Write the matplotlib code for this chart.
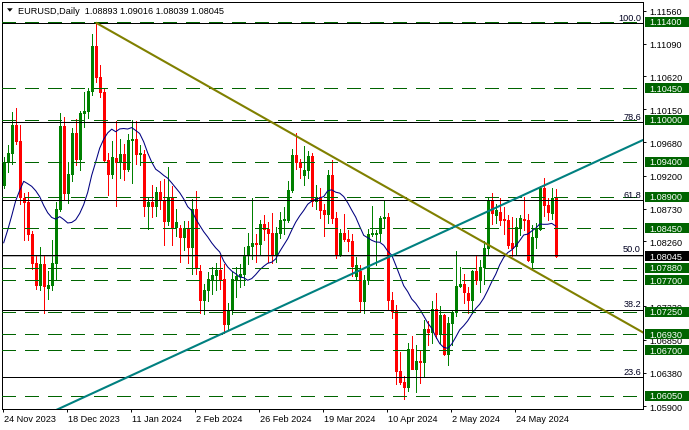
import numpy as np
import pandas as pd
import matplotlib
matplotlib.use("Agg")
import matplotlib.pyplot as plt
from matplotlib.patches import Rectangle, Polygon
import matplotlib.transforms as mtransforms

plt.rcParams['font.family'] = ['Liberation Sans', 'DejaVu Sans']
plt.rcParams['lines.scale_dashes'] = False

# ---------------- data ----------------
symbol_title = "EURUSD,Daily"
first_day = "2023-11-24"
last_day = "2024-06-07"
holidays = ["2023-12-25", "2024-01-01"]

opens = [1.0906, 1.0940, 1.0953, 1.0992, 1.0970, 1.0888, 1.0883, 1.0836, 1.0795, 1.0764,
         1.0794, 1.0759, 1.0763, 1.0795, 1.0872, 1.0991, 1.0895, 1.0922, 1.0981, 1.0944,
         1.1009, 1.1013, 1.1041, 1.1105, 1.1061, 1.1039, 1.0942, 1.0922, 1.0945, 1.0940,
         1.0951, 1.0930, 1.0971, 1.0973, 1.0951, 1.0951, 1.0876, 1.0883, 1.0876, 1.0897,
         1.0885, 1.0855, 1.0890, 1.0846, 1.0845, 1.0832, 1.0845, 1.0818, 1.0873, 1.0784,
         1.0742, 1.0756, 1.0772, 1.0778, 1.0785, 1.0772, 1.0708, 1.0728, 1.0772, 1.0777,
         1.0779, 1.0806, 1.0820, 1.0823, 1.0822, 1.0851, 1.0844, 1.0838, 1.0806, 1.0838,
         1.0856, 1.0857, 1.0899, 1.0949, 1.0939, 1.0921, 1.0928, 1.0948, 1.0884, 1.0889,
         1.0871, 1.0865, 1.0921, 1.0859, 1.0808, 1.0838, 1.0830, 1.0826, 1.0776, 1.0784,
         1.0741, 1.0770, 1.0836, 1.0837, 1.0838, 1.0859, 1.0861, 1.0742, 1.0726, 1.0640,
         1.0625, 1.0617, 1.0672, 1.0644, 1.0655, 1.0653, 1.0701, 1.0697, 1.0729, 1.0694,
         1.0721, 1.0665, 1.0709, 1.0725, 1.0762, 1.0765, 1.0752, 1.0742, 1.0783, 1.0770,
         1.0789, 1.0817, 1.0885, 1.0864, 1.0868, 1.0857, 1.0856, 1.0823, 1.0819, 1.0845,
         1.0858, 1.0857, 1.0796, 1.0832, 1.0844, 1.0903, 1.0878, 1.0867, 1.08893]
highs = [1.0947, 1.0964, 1.1011, 1.1017, 1.0992, 1.0895, 1.0896, 1.0841, 1.0805, 1.0818,
         1.0805, 1.0783, 1.0828, 1.0882, 1.1009, 1.1004, 1.0940, 1.0988, 1.1001, 1.1012,
         1.1040, 1.1045, 1.1123, 1.1139, 1.1078, 1.1046, 1.0953, 1.0970, 1.0998, 1.0972,
         1.0966, 1.0980, 1.1000, 1.0998, 1.0964, 1.0956, 1.0889, 1.0907, 1.0904, 1.0913,
         1.0915, 1.0932, 1.0905, 1.0872, 1.0850, 1.0855, 1.0855, 1.0887, 1.0898, 1.0792,
         1.0765, 1.0782, 1.0790, 1.0795, 1.0805, 1.0794, 1.0738, 1.0782, 1.0790, 1.0793,
         1.0818, 1.0838, 1.0888, 1.0836, 1.0856, 1.0864, 1.0854, 1.0866, 1.0847, 1.0868,
         1.0875, 1.0912, 1.0958, 1.0981, 1.0944, 1.0963, 1.0955, 1.0952, 1.0906, 1.0903,
         1.0880, 1.0928, 1.0942, 1.0868, 1.0843, 1.0865, 1.0842, 1.0836, 1.0803, 1.0792,
         1.0778, 1.0843, 1.0877, 1.0842, 1.0862, 1.0885, 1.0867, 1.0754, 1.0735, 1.0668,
         1.0634, 1.0680, 1.0690, 1.0678, 1.0670, 1.0714, 1.0712, 1.0741, 1.0752, 1.0734,
         1.0722, 1.0718, 1.0727, 1.0812, 1.0790, 1.0780, 1.0760, 1.0785, 1.0805, 1.0799,
         1.0827, 1.0889, 1.0895, 1.0880, 1.0888, 1.0875, 1.0863, 1.0861, 1.0859, 1.0863,
         1.0889, 1.0865, 1.0849, 1.0852, 1.0905, 1.0916, 1.0888, 1.0902, 1.09016]
lows = [1.0902, 1.0925, 1.0936, 1.0965, 1.0879, 1.0828, 1.0828, 1.0787, 1.0758, 1.0756,
        1.0723, 1.0743, 1.0756, 1.0772, 1.0869, 1.0885, 1.0881, 1.0912, 1.0935, 1.0928,
        1.0989, 1.1003, 1.1036, 1.1054, 1.1032, 1.0939, 1.0892, 1.0917, 1.0877, 1.0917,
        1.0914, 1.0926, 1.0910, 1.0937, 1.0935, 1.0862, 1.0844, 1.0861, 1.0862, 1.0872,
        1.0821, 1.0850, 1.0821, 1.0833, 1.0796, 1.0813, 1.0795, 1.0780, 1.0779, 1.0723,
        1.0722, 1.0740, 1.0751, 1.0757, 1.0758, 1.0695, 1.0699, 1.0722, 1.0746, 1.0761,
        1.0764, 1.0794, 1.0801, 1.0796, 1.0808, 1.0828, 1.0797, 1.0795, 1.0797, 1.0831,
        1.0836, 1.0854, 1.0896, 1.0930, 1.0916, 1.0907, 1.0917, 1.0877, 1.0873, 1.0860,
        1.0834, 1.0852, 1.0852, 1.0802, 1.0805, 1.0826, 1.0812, 1.0776, 1.0770, 1.0725,
        1.0724, 1.0765, 1.0834, 1.0792, 1.0827, 1.0845, 1.0729, 1.0717, 1.0622, 1.0622,
        1.0601, 1.0612, 1.0644, 1.0610, 1.0623, 1.0634, 1.0677, 1.0680, 1.0688, 1.0680,
        1.0663, 1.0649, 1.0678, 1.0719, 1.0760, 1.0738, 1.0724, 1.0723, 1.0765, 1.0753,
        1.0765, 1.0808, 1.0851, 1.0852, 1.0850, 1.0837, 1.0817, 1.0805, 1.0808, 1.0835,
        1.0842, 1.0798, 1.0788, 1.0816, 1.0842, 1.0862, 1.0856, 1.0858, 1.08039]
closes = [1.0940, 1.0953, 1.0992, 1.0970, 1.0890, 1.0883, 1.0836, 1.0795, 1.0764, 1.0794,
          1.0762, 1.0763, 1.0795, 1.0872, 1.0991, 1.0895, 1.0922, 1.0981, 1.0944, 1.1009,
          1.1013, 1.1041, 1.1105, 1.1061, 1.1039, 1.0942, 1.0922, 1.0946, 1.0940, 1.0951,
          1.0930, 1.0971, 1.0973, 1.0951, 1.0951, 1.0876, 1.0883, 1.0876, 1.0897, 1.0885,
          1.0855, 1.0890, 1.0846, 1.0853, 1.0832, 1.0845, 1.0818, 1.0873, 1.0789, 1.0742,
          1.0756, 1.0772, 1.0778, 1.0785, 1.0772, 1.0708, 1.0728, 1.0772, 1.0777, 1.0779,
          1.0806, 1.0820, 1.0823, 1.0822, 1.0851, 1.0844, 1.0838, 1.0806, 1.0838, 1.0856,
          1.0857, 1.0899, 1.0949, 1.0939, 1.0932, 1.0928, 1.0948, 1.0884, 1.0889, 1.0871,
          1.0865, 1.0921, 1.0859, 1.0808, 1.0838, 1.0830, 1.0826, 1.0791, 1.0792, 1.0741,
          1.0770, 1.0836, 1.0837, 1.0838, 1.0859, 1.0861, 1.0742, 1.0727, 1.0640, 1.0625,
          1.0617, 1.0672, 1.0644, 1.0655, 1.0653, 1.0701, 1.0697, 1.0729, 1.0694, 1.0721,
          1.0665, 1.0709, 1.0725, 1.0762, 1.0765, 1.0754, 1.0742, 1.0783, 1.0770, 1.0789,
          1.0817, 1.0885, 1.0866, 1.0871, 1.0857, 1.0856, 1.0821, 1.0816, 1.0846, 1.0859,
          1.0856, 1.0800, 1.0832, 1.0844, 1.0903, 1.0878, 1.0868, 1.0888, 1.08045]
pre_closes = [1.0698, 1.0708, 1.0667, 1.0684, 1.0700, 1.0884, 1.0848, 1.0852, 1.0913,
              1.0938, 1.0909, 1.0889, 1.0906]
ma_period = 14

hline_levels = [1.11400, 1.10450, 1.10000, 1.09400, 1.08900, 1.08450,
                1.07880, 1.07700, 1.07250, 1.06930, 1.06700, 1.06050]
fib_high = 1.1138
fib_low = 1.0475
fib_ratios = [100.0, 78.6, 61.8, 50.0, 38.2, 23.6, 0.0]

down_line_dates = ["2023-12-28", "2024-03-08"]
down_line_prices = [1.1139, 1.0977]
up_line_dates = ["2024-02-13", "2024-06-03"]
up_line_prices = [1.0695, 1.0903]

price_ticks = [1.11560, 1.11090, 1.10620, 1.10150, 1.09680, 1.09200, 1.08730,
               1.08260, 1.07330, 1.06850, 1.06380, 1.05900]
date_tick_days = ["2023-11-24", "2023-12-18", "2024-01-11", "2024-02-02", "2024-02-26",
                  "2024-03-19", "2024-04-10", "2024-05-02", "2024-05-24"]

# ---------------- derived ----------------
dates = pd.bdate_range(first_day, last_day)
dates = dates[~dates.isin(pd.to_datetime(holidays))]
n = len(dates)
idx = np.arange(n)
date_pos = {d: i for i, d in enumerate(dates)}

o = np.array(opens); h = np.array(highs); l = np.array(lows); c = np.array(closes)
ma = pd.Series(pre_closes + closes).rolling(ma_period).mean().to_numpy()[len(pre_closes):]

# ---------------- figure ----------------
W, H = 689, 431
PT = 72.0 / 100.0          # points per pixel
fig = plt.figure(figsize=(W / 100, H / 100), dpi=100)
fig.patch.set_facecolor('white')
ax_l, ax_r, ax_t, ax_b = 2.0, 643.0, 2.5, 410.0
ax = fig.add_axes([ax_l / W, (H - ax_b) / H, (ax_r - ax_l) / W, (ax_b - ax_t) / H])

px_per_bar = 4.0
x0_px = 3.7
ax.set_xlim((ax_l - x0_px) / px_per_bar, (ax_r - x0_px) / px_per_bar)
ax.set_ylim(1.058615, 1.116916)
ppx = (1.116916 - 1.058615) / (ax_b - ax_t)  # price per pixel

UP = '#008000'
DN = '#ff0000'
LVL = '#006400'
dash = (0, (9.5, 6.5))
thin = 0.95 * PT

# horizontal levels
for lv in hline_levels:
    ax.axhline(lv, color=LVL, lw=thin, linestyle=dash, zorder=4, antialiased=False)

# current price (bid) line
ax.axhline(c[-1], color='#b4b4b4', lw=thin, zorder=1, antialiased=False)

# fibonacci
ylo, yhi = ax.get_ylim()
for r in fib_ratios:
    p = fib_low + (fib_high - fib_low) * r / 100.0
    if ylo < p < yhi:
        ax.axhline(p, color='black', lw=thin, zorder=4, antialiased=False)
        ax.text(159.3, p + 1.5 * ppx, f"{r:.1f}", ha='right', va='bottom',
                fontsize=6.6, color='#000020', zorder=6)

# candles
cols = [UP if c[i] >= o[i] else DN for i in idx]
ax.vlines(idx, l, h, colors=cols, lw=thin, zorder=2, antialiased=False)
bot = np.minimum(o, c)
top = np.maximum(o, c)
top = np.maximum(top, bot + ppx * 1.0)
ax.vlines(idx, bot, top, colors=cols, lw=2.9 * PT, zorder=2.1, antialiased=False,
          capstyle='butt')

# moving average
ax.plot(idx, ma, color='#000080', lw=0.75, zorder=3)

# trend lines
xr = ax.get_xlim()
dx = [date_pos[pd.Timestamp(d)] for d in down_line_dates]
sl = (down_line_prices[1] - down_line_prices[0]) / (dx[1] - dx[0])
ax.plot([dx[0], xr[1] + 2], [down_line_prices[0], down_line_prices[0] + sl * (xr[1] + 2 - dx[0])],
        color='#808000', lw=1.5, zorder=5, solid_capstyle='butt')
ux = [date_pos[pd.Timestamp(d)] for d in up_line_dates]
su = (up_line_prices[1] - up_line_prices[0]) / (ux[1] - ux[0])
xs = np.array([xr[0] - 20, xr[1] + 2])
ax.plot(xs, up_line_prices[0] + su * (xs - ux[0]), color='#008080', lw=1.5, zorder=5)

# axes style
for s in ax.spines.values():
    s.set_color('black'); s.set_linewidth(thin); s.set_antialiased(False)
ax.yaxis.tick_right()
ax.set_yticks(price_ticks)
ax.set_yticklabels([f"{v:.5f}" for v in price_ticks])
ax.tick_params(axis='y', direction='out', length=2.2, width=thin, pad=2.2,
               labelsize=6.6, colors='black')
tick_x = [date_pos[pd.Timestamp(d)] - 0.25 for d in date_tick_days]
ax.set_xticks(tick_x)
ax.set_xticklabels([f"{pd.Timestamp(d).day} {pd.Timestamp(d).strftime('%b %Y')}" for d in date_tick_days])
ax.tick_params(axis='x', direction='out', length=2.2, width=thin, pad=1.6,
               labelsize=6.6, colors='black')
off = mtransforms.ScaledTranslation(1.5 / 100, 0, fig.dpi_scale_trans)
for lab in ax.get_xticklabels():
    lab.set_horizontalalignment('left')
    lab.set_transform(lab.get_transform() + off)

# price boxes on the right scale
bt = mtransforms.blended_transform_factory(fig.transFigure, ax.transData)
box_h = 10 * ppx
def price_box(p, fc):
    r = Rectangle((645 / W, p - box_h / 2), 44 / W, box_h, transform=bt,
                  facecolor=fc, edgecolor='none', clip_on=False, zorder=10)
    fig.add_artist(r)
    fig.text(649 / W, p, f"{p:.5f}", transform=bt, ha='left', va='center',
             fontsize=6.6, color='white', zorder=11)

for lv in hline_levels:
    price_box(lv, LVL)
price_box(c[-1], 'black')

# header
tri = Polygon([[7 / W, 1 - 9.3 / H], [12.7 / W, 1 - 9.3 / H], [9.85 / W, 1 - 12.7 / H]],
              closed=True, transform=fig.transFigure, facecolor='black', edgecolor='none')
fig.add_artist(tri)
hdr = f"{symbol_title}  {o[-1]:.5f} {h[-1]:.5f} {l[-1]:.5f} {c[-1]:.5f}"
fig.text(18 / W, 1 - 11 / H, hdr, ha='left', va='center', fontsize=6.6, color='black')

fig.savefig("out.png", dpi=100, facecolor='white')
